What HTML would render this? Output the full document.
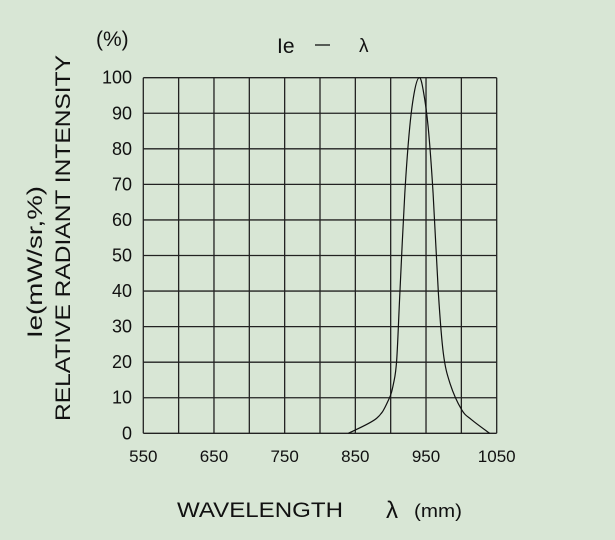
<!DOCTYPE html>
<html><head><meta charset="utf-8"><style>
html,body{margin:0;padding:0;background:#d8e6d5;}
svg{display:block;font-family:"Liberation Sans","DejaVu Sans",sans-serif;}
text{fill:#111;}
</style></head><body>
<svg id="chart" width="615" height="540" viewBox="0 0 615 540">
<rect width="615" height="540" fill="#d8e6d5"/>
<g id="grid"></g>
<g id="ylabels"></g>
<g id="xlabels"></g>
<path id="curve" fill="none" stroke="#111" stroke-width="1.2"/>
<text x="96" y="46" font-size="21">(%)</text>
<text x="277" y="53" font-size="21">Ie</text>
<line x1="315" y1="45" x2="330" y2="45" stroke="#111" stroke-width="1.3"/>
<text x="359" y="52" font-size="19">λ</text>
<text transform="translate(70,421) rotate(-90)" font-size="21" textLength="366" lengthAdjust="spacingAndGlyphs">RELATIVE RADIANT INTENSITY</text>
<text transform="translate(42,338) rotate(-90)" font-size="21" textLength="152" lengthAdjust="spacingAndGlyphs">Ie(mW/sr,%)</text>
<text x="177" y="517" font-size="21" textLength="166" lengthAdjust="spacingAndGlyphs">WAVELENGTH</text>
<text x="386" y="518" font-size="24">λ</text>
<text x="414" y="517" font-size="18" textLength="48" lengthAdjust="spacingAndGlyphs">(mm)</text>
</svg>
<script>
const xTicks=[550,600,650,700,750,800,850,900,950,1000,1050];
const xTickLabels=[550,650,750,850,950,1050];
const yTicks=[0,10,20,30,40,50,60,70,80,90,100];
const waveNm=[840,880,897,904,908.5,913,920,927,934,940.6,946,953,960,967.5,974.5,984,1000.5,1014.6,1040];
const intensity=[0,4.2,9.4,14,20.6,39.4,67.5,86.2,96.5,100,96.5,86.2,67.5,39.4,22.5,14,6.6,3.8,0];
const X0=143.3,X1=496.7,Y0=433.3,Y1=77.7;
function sx(v){return X0+(v-550)/(1050-550)*(X1-X0);}
function sy(v){return Y0-(v/100)*(Y0-Y1);}
const NS="http://www.w3.org/2000/svg";
const grid=document.getElementById('grid');
xTicks.forEach(t=>{
  const l=document.createElementNS(NS,'line');
  l.setAttribute('x1',sx(t));l.setAttribute('x2',sx(t));
  l.setAttribute('y1',sy(0));l.setAttribute('y2',sy(100));
  l.setAttribute('stroke','#222');l.setAttribute('stroke-width','1.3');
  
  
  grid.appendChild(l);
});
yTicks.forEach(t=>{
  const l=document.createElementNS(NS,'line');
  l.setAttribute('x1',sx(550));l.setAttribute('x2',sx(1050));
  l.setAttribute('y1',sy(t));l.setAttribute('y2',sy(t));
  l.setAttribute('stroke','#222');l.setAttribute('stroke-width','1.3');
  
  
  grid.appendChild(l);
  const tx=document.createElementNS(NS,'text');
  tx.setAttribute('x',132);tx.setAttribute('y',sy(t)+6);
  tx.setAttribute('text-anchor','end');tx.setAttribute('font-size','18');
  tx.textContent=t;
  
  
  document.getElementById('ylabels').appendChild(tx);
});
xTickLabels.forEach(t=>{
  const tx=document.createElementNS(NS,'text');
  tx.setAttribute('x',sx(t));tx.setAttribute('y',462);
  tx.setAttribute('text-anchor','middle');tx.setAttribute('font-size','17');
  tx.textContent=t;
  
  
  document.getElementById('xlabels').appendChild(tx);
});
const pts=waveNm.map((w,i)=>[sx(w),sy(intensity[i])]);
let d='M'+pts[0][0]+','+pts[0][1];
for(let i=0;i<pts.length-1;i++){
  const p0=pts[i-1]||pts[i],p1=pts[i],p2=pts[i+1],p3=pts[i+2]||p2;
  const c1x=p1[0]+(p2[0]-p0[0])/6,c1y=p1[1]+(p2[1]-p0[1])/6;
  const c2x=p2[0]-(p3[0]-p1[0])/6,c2y=p2[1]-(p3[1]-p1[1])/6;
  d+=' C'+c1x+','+c1y+' '+c2x+','+c2y+' '+p2[0]+','+p2[1];
}
document.getElementById('curve').setAttribute('d',d);
</script>
</body></html>
